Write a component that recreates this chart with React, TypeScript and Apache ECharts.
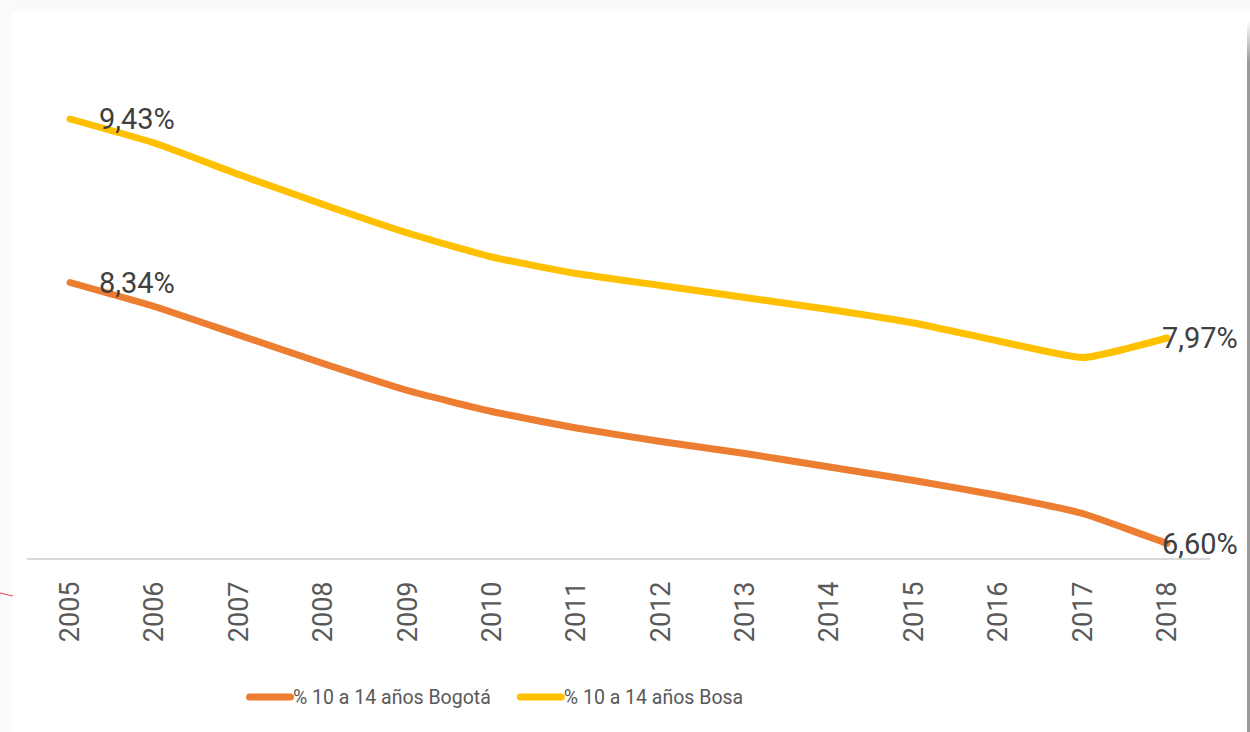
import React, { useEffect, useRef } from "react";
import * as echarts from "echarts";

const years = ["2005", "2006", "2007", "2008", "2009", "2010", "2011", "2012", "2013", "2014", "2015", "2016", "2017", "2018"];
const bogota = [8.34, 8.18, 7.99, 7.8, 7.62, 7.48, 7.37, 7.28, 7.2, 7.11, 7.02, 6.92, 6.8, 6.6];
const bosa = [9.43, 9.27, 9.06, 8.86, 8.67, 8.51, 8.4, 8.32, 8.24, 8.16, 8.07, 7.95, 7.84, 7.97];
const seriesNames = ["% 10 a 14 años Bogotá", "% 10 a 14 años Bosa"];
const colors = ["#ED7D31", "#FFC000"];

const fmt = (v: number) => v.toFixed(2).replace(".", ",") + "%";

const labelStyle = {
  fontFamily: "Roboto",
  fontSize: 29,
  color: "#404040",
};

function buildData(values: number[]) {
  const last = values.length - 1;
  return values.map((v, i) => {
    if (i === 0) {
      return {
        value: v,
        label: { show: true, position: "right", distance: 29, offset: [0, 1], formatter: () => fmt(v), ...labelStyle },
      };
    }
    if (i === last) {
      return {
        value: v,
        label: { show: true, position: "right", distance: -5, offset: [0, 3], formatter: () => fmt(v), ...labelStyle },
      };
    }
    return { value: v, label: { show: false } };
  });
}

function makeSeries(name: string, values: number[], color: string) {
  return {
    name,
    type: "line",
    data: buildData(values),
    color,
    smooth: 0.15,
    symbol: "circle",
    symbolSize: 0,
    showSymbol: true,
    showAllSymbol: true,
    lineStyle: { color, width: 7, cap: "round", join: "round" },
    itemStyle: { color },
    label: { show: false },
    labelLayout: { hideOverlap: false },
    z: 3,
  };
}

export default function App() {
  const ref = useRef<HTMLDivElement>(null);
  useEffect(() => {
    if (!ref.current) return;
    const chart = echarts.init(ref.current, undefined, { renderer: "svg" });
    const legendIcon = "path://M3.5,0 L44.5,0 A3.5,3.5 0 0 1 44.5,7 L3.5,7 A3.5,3.5 0 0 1 3.5,0 Z";
    chart.setOption({
      animation: false,
      backgroundColor: "#ffffff",
      grid: { left: 27.8, right: 40.8, top: 33.5, bottom: 173.5, containLabel: false },
      xAxis: {
        type: "category",
        data: years,
        boundaryGap: true,
        axisLine: { show: true, lineStyle: { color: "#D9D9D9", width: 2 } },
        axisTick: { show: false },
        axisLabel: {
          rotate: 90,
          margin: 23,
          fontFamily: "Roboto",
          fontSize: 27,
          color: "#595959",
        },
        splitLine: { show: false },
      },
      yAxis: {
        type: "value",
        min: 6.5,
        max: 10,
        show: false,
        splitLine: { show: false },
      },
      legend: {
        data: seriesNames.map((n) => ({ name: n, icon: legendIcon })),
        left: 241,
        top: 682,
        itemWidth: 48,
        itemHeight: 7,
        itemGap: 26,
        textStyle: { fontFamily: "Roboto", fontSize: 19.5, color: "#595959", padding: [0, 0, 0, -6] },
      },
      series: [makeSeries(seriesNames[0], bogota, colors[0]), makeSeries(seriesNames[1], bosa, colors[1])],
      graphic: [
        { type: "rect", shape: { x: 0, y: 0, width: 1250, height: 11 }, style: { fill: "#FAFAFA" }, silent: true, z: -1 },
        { type: "rect", shape: { x: 0, y: 0, width: 12, height: 732 }, style: { fill: "#FBFBFB" }, silent: true, z: -1 },
        {
          type: "rect",
          shape: { x: 1247, y: 20, width: 3, height: 712 },
          style: {
            fill: new echarts.graphic.LinearGradient(0, 0, 0, 1, [
              { offset: 0, color: "#FFFFFF" },
              { offset: 0.06, color: "#999999" },
              { offset: 1, color: "#999999" },
            ]),
          },
          silent: true,
        },
        { type: "line", shape: { x1: 0, y1: 593, x2: 13, y2: 596 }, style: { stroke: "#E0455A", lineWidth: 1 }, silent: true },
      ],
    });
    return () => chart.dispose();
  }, []);
  return <div ref={ref} style={{ position: "fixed", left: 0, top: 0, width: 1250, height: 732 }} />;
}
